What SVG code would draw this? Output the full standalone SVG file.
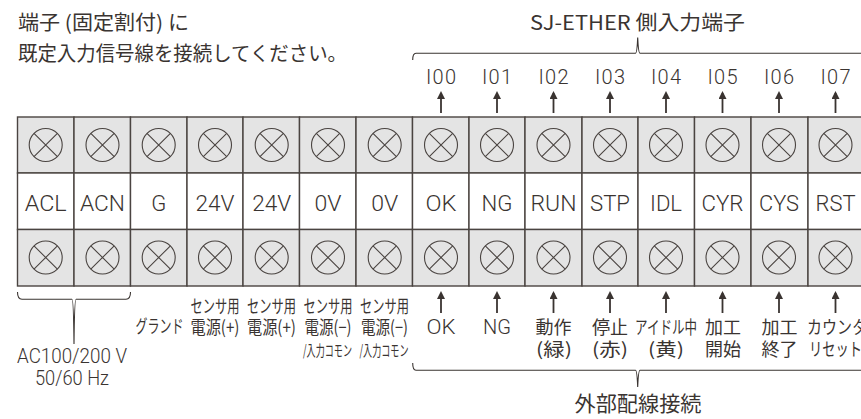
<svg xmlns="http://www.w3.org/2000/svg" width="861" height="419" viewBox="0 0 861 419">
<style>
text{font-family:Roboto,"Liberation Sans","Noto Sans CJK JP",sans-serif;font-weight:300;fill:#3a3431;text-anchor:middle}
.j{font-family:"Noto Sans CJK JP","Liberation Sans",sans-serif;font-weight:400}
.a{text-anchor:start}
.t{font-size:20px}
.l{font-size:22px}
.i{font-size:20px}
.s{font-size:18px}
.x{font-size:15px}
.m{font-size:20px}
.c{fill:#fff;stroke:#4a4441;stroke-width:1.4}
.g{fill:#e4e4e4;stroke:#4a4441;stroke-width:1.4}
.w{fill:none;stroke:#4a4441;stroke-width:1.1}
.b{fill:none;stroke:#3a3431;stroke-width:1.1}
.ar{fill:none;stroke:#3a3431;stroke-width:1.8;marker-end:url(#h)}
</style>
<defs>
<marker id="h" markerUnits="userSpaceOnUse" markerWidth="8" markerHeight="8" refX="6" refY="4" orient="auto" viewBox="0 0 8 8"><path d="M0 0L8 4L0 8Z" fill="#3a3431"/></marker>
<g id="sc"><circle r="16.500" class="w"/><path class="w" d="M-11.700-11.700L11.700 11.700M-11.700 11.700L11.700-11.700"/></g>
</defs>
<g id="titles">
<text class="j t a" x="18" y="29.500" textLength="171" lengthAdjust="spacingAndGlyphs">端子 (固定割付) に</text>
<text class="j t a" x="18" y="61" textLength="329" lengthAdjust="spacingAndGlyphs">既定入力信号線を接続してください。</text>
<text class="j t" x="637.500" y="30" textLength="215" lengthAdjust="spacingAndGlyphs">SJ-ETHER 側入力端子</text>
<text class="j" font-size="21" x="638" y="411" textLength="127" lengthAdjust="spacingAndGlyphs">外部配線接続</text>
</g>
<g id="connectors">
<path class="b" d="M412.700 60Q412.700 53.300 416 53.300L635.500 53.300Q637 53.300 637.700 37.500Q638.400 53.300 640 53.300L861 53.300"/>
<path class="b" d="M412.700 363Q412.700 370.300 416 370.300L635.500 370.300Q637 370.300 637.700 387Q638.400 370.300 640 370.300L861 370.300"/>
<path class="b" d="M17.500 292Q17.500 299.300 22 299.300L72 299.300Q73.500 299.300 74 344Q74.500 299.300 76 299.300L126 299.300Q130.500 299.300 130.500 292"/>
<path class="ar" d="M441 113L441 93"/><path class="ar" d="M497 113L497 93"/><path class="ar" d="M553.500 113L553.500 93"/><path class="ar" d="M610 113L610 93"/><path class="ar" d="M666 113L666 93"/><path class="ar" d="M722.500 113L722.500 93"/><path class="ar" d="M779 113L779 93"/><path class="ar" d="M835.500 113L835.500 93"/>
<path class="ar" d="M441 313L441 293"/><path class="ar" d="M497 313L497 293"/><path class="ar" d="M553.500 313L553.500 293"/><path class="ar" d="M610 313L610 293"/><path class="ar" d="M666 313L666 293"/><path class="ar" d="M722.500 313L722.500 293"/><path class="ar" d="M779 313L779 293"/><path class="ar" d="M835.500 313L835.500 293"/>
</g>
<g id="t-ACL"><rect class="g" x="17.500" y="117" width="56.500" height="56"/><rect class="c" x="17.500" y="173" width="56.500" height="56.500"/><rect class="g" x="17.500" y="229.500" width="56.500" height="56.500"/><use href="#sc" x="45.700" y="145"/><use href="#sc" x="45.700" y="257.500"/><text class="l" x="45.700" y="211" textLength="42" lengthAdjust="spacingAndGlyphs">ACL</text></g>
<g id="t-ACN"><rect class="g" x="74" y="117" width="56.500" height="56"/><rect class="c" x="74" y="173" width="56.500" height="56.500"/><rect class="g" x="74" y="229.500" width="56.500" height="56.500"/><use href="#sc" x="102.500" y="145"/><use href="#sc" x="102.500" y="257.500"/><text class="l" x="102.500" y="211" textLength="45" lengthAdjust="spacingAndGlyphs">ACN</text></g>
<g id="t-G"><rect class="g" x="130.500" y="117" width="56.500" height="56"/><rect class="c" x="130.500" y="173" width="56.500" height="56.500"/><rect class="g" x="130.500" y="229.500" width="56.500" height="56.500"/><use href="#sc" x="158.700" y="145"/><use href="#sc" x="158.700" y="257.500"/><text class="l" x="158.700" y="211">G</text></g>
<g id="t-24V-1"><rect class="g" x="187" y="117" width="56" height="56"/><rect class="c" x="187" y="173" width="56" height="56.500"/><rect class="g" x="187" y="229.500" width="56" height="56.500"/><use href="#sc" x="215" y="145"/><use href="#sc" x="215" y="257.500"/><text class="l" x="215" y="211" textLength="39" lengthAdjust="spacingAndGlyphs">24V</text></g>
<g id="t-24V-2"><rect class="g" x="243" y="117" width="56.500" height="56"/><rect class="c" x="243" y="173" width="56.500" height="56.500"/><rect class="g" x="243" y="229.500" width="56.500" height="56.500"/><use href="#sc" x="271.700" y="145"/><use href="#sc" x="271.700" y="257.500"/><text class="l" x="271.700" y="211" textLength="39" lengthAdjust="spacingAndGlyphs">24V</text></g>
<g id="t-0V-1"><rect class="g" x="299.500" y="117" width="56.500" height="56"/><rect class="c" x="299.500" y="173" width="56.500" height="56.500"/><rect class="g" x="299.500" y="229.500" width="56.500" height="56.500"/><use href="#sc" x="328" y="145"/><use href="#sc" x="328" y="257.500"/><text class="l" x="328" y="211" textLength="27" lengthAdjust="spacingAndGlyphs">0V</text></g>
<g id="t-0V-2"><rect class="g" x="356" y="117" width="56.500" height="56"/><rect class="c" x="356" y="173" width="56.500" height="56.500"/><rect class="g" x="356" y="229.500" width="56.500" height="56.500"/><use href="#sc" x="384.700" y="145"/><use href="#sc" x="384.700" y="257.500"/><text class="l" x="384.700" y="211" textLength="27" lengthAdjust="spacingAndGlyphs">0V</text></g>
<g id="t-OK"><rect class="g" x="412.500" y="117" width="56.500" height="56"/><rect class="c" x="412.500" y="173" width="56.500" height="56.500"/><rect class="g" x="412.500" y="229.500" width="56.500" height="56.500"/><use href="#sc" x="441" y="145"/><use href="#sc" x="441" y="257.500"/><text class="l" x="441" y="211" textLength="31" lengthAdjust="spacingAndGlyphs">OK</text><text class="i" x="441" y="83.500" textLength="30">I00</text></g>
<g id="t-NG"><rect class="g" x="469" y="117" width="56" height="56"/><rect class="c" x="469" y="173" width="56" height="56.500"/><rect class="g" x="469" y="229.500" width="56" height="56.500"/><use href="#sc" x="497" y="145"/><use href="#sc" x="497" y="257.500"/><text class="l" x="497" y="211" textLength="31" lengthAdjust="spacingAndGlyphs">NG</text><text class="i" x="497" y="83.500" textLength="30">I01</text></g>
<g id="t-RUN"><rect class="g" x="525" y="117" width="57" height="56"/><rect class="c" x="525" y="173" width="57" height="56.500"/><rect class="g" x="525" y="229.500" width="57" height="56.500"/><use href="#sc" x="553.500" y="145"/><use href="#sc" x="553.500" y="257.500"/><text class="l" x="553.500" y="211" textLength="46" lengthAdjust="spacingAndGlyphs">RUN</text><text class="i" x="553.500" y="83.500" textLength="30">I02</text></g>
<g id="t-STP"><rect class="g" x="582" y="117" width="56" height="56"/><rect class="c" x="582" y="173" width="56" height="56.500"/><rect class="g" x="582" y="229.500" width="56" height="56.500"/><use href="#sc" x="610" y="145"/><use href="#sc" x="610" y="257.500"/><text class="l" x="610" y="211" textLength="40" lengthAdjust="spacingAndGlyphs">STP</text><text class="i" x="610" y="83.500" textLength="30">I03</text></g>
<g id="t-IDL"><rect class="g" x="638" y="117" width="56.500" height="56"/><rect class="c" x="638" y="173" width="56.500" height="56.500"/><rect class="g" x="638" y="229.500" width="56.500" height="56.500"/><use href="#sc" x="666" y="145"/><use href="#sc" x="666" y="257.500"/><text class="l" x="666" y="211" textLength="32" lengthAdjust="spacingAndGlyphs">IDL</text><text class="i" x="666" y="83.500" textLength="30">I04</text></g>
<g id="t-CYR"><rect class="g" x="694.500" y="117" width="56.500" height="56"/><rect class="c" x="694.500" y="173" width="56.500" height="56.500"/><rect class="g" x="694.500" y="229.500" width="56.500" height="56.500"/><use href="#sc" x="722.500" y="145"/><use href="#sc" x="722.500" y="257.500"/><text class="l" x="722.500" y="211" textLength="42" lengthAdjust="spacingAndGlyphs">CYR</text><text class="i" x="722.500" y="83.500" textLength="30">I05</text></g>
<g id="t-CYS"><rect class="g" x="751" y="117" width="57" height="56"/><rect class="c" x="751" y="173" width="57" height="56.500"/><rect class="g" x="751" y="229.500" width="57" height="56.500"/><use href="#sc" x="779" y="145"/><use href="#sc" x="779" y="257.500"/><text class="l" x="779" y="211" textLength="40" lengthAdjust="spacingAndGlyphs">CYS</text><text class="i" x="779" y="83.500" textLength="30">I06</text></g>
<g id="t-RST"><rect class="g" x="808" y="117" width="60" height="56"/><rect class="c" x="808" y="173" width="60" height="56.500"/><rect class="g" x="808" y="229.500" width="60" height="56.500"/><use href="#sc" x="835.500" y="145"/><use href="#sc" x="835.500" y="257.500"/><text class="l" x="835.500" y="211" textLength="40" lengthAdjust="spacingAndGlyphs">RST</text><text class="i" x="835.500" y="83.500" textLength="30">I07</text></g>
<g id="notes">
<text class="m" x="72" y="363" textLength="110" lengthAdjust="spacingAndGlyphs">AC100/200 V</text>
<text class="m" x="72" y="384.500" textLength="74" lengthAdjust="spacingAndGlyphs">50/60 Hz</text>
<text class="j s" x="159.500" y="333" textLength="48" lengthAdjust="spacingAndGlyphs">グランド</text>
<text class="j s" x="215" y="313" textLength="49" lengthAdjust="spacingAndGlyphs">センサ用</text>
<text class="j s" x="215" y="334" textLength="49" lengthAdjust="spacingAndGlyphs">電源(+)</text>
<text class="j s" x="271.500" y="313" textLength="49" lengthAdjust="spacingAndGlyphs">センサ用</text>
<text class="j s" x="271.500" y="334" textLength="49" lengthAdjust="spacingAndGlyphs">電源(+)</text>
<text class="j s" x="328" y="313" textLength="49" lengthAdjust="spacingAndGlyphs">センサ用</text>
<text class="j s" x="328" y="334" textLength="47" lengthAdjust="spacingAndGlyphs">電源(−)</text>
<text class="j x" x="327.500" y="356" textLength="49" lengthAdjust="spacingAndGlyphs">/入力コモン</text>
<text class="j s" x="384.500" y="313" textLength="49" lengthAdjust="spacingAndGlyphs">センサ用</text>
<text class="j s" x="384.500" y="334" textLength="47" lengthAdjust="spacingAndGlyphs">電源(−)</text>
<text class="j x" x="384" y="356" textLength="49" lengthAdjust="spacingAndGlyphs">/入力コモン</text>
<text class="m" x="441" y="334" textLength="29" lengthAdjust="spacingAndGlyphs">OK</text>
<text class="m" x="497" y="334" textLength="28" lengthAdjust="spacingAndGlyphs">NG</text>
<text class="j s" x="553.500" y="334" textLength="36" lengthAdjust="spacingAndGlyphs">動作</text>
<text class="j s" x="554" y="356" textLength="36" lengthAdjust="spacingAndGlyphs">(緑)</text>
<text class="j s" x="610" y="334" textLength="36" lengthAdjust="spacingAndGlyphs">停止</text>
<text class="j s" x="610" y="356" textLength="36" lengthAdjust="spacingAndGlyphs">(赤)</text>
<text class="j s" x="666" y="334" textLength="62" lengthAdjust="spacingAndGlyphs">アイドル中</text>
<text class="j s" x="666" y="356" textLength="36" lengthAdjust="spacingAndGlyphs">(黄)</text>
<text class="j s" x="723" y="334" textLength="36" lengthAdjust="spacingAndGlyphs">加工</text>
<text class="j s" x="723" y="356" textLength="36" lengthAdjust="spacingAndGlyphs">開始</text>
<text class="j s" x="779.500" y="334" textLength="36" lengthAdjust="spacingAndGlyphs">加工</text>
<text class="j s" x="779.500" y="356" textLength="36" lengthAdjust="spacingAndGlyphs">終了</text>
<text class="j s a" x="807" y="334" textLength="60" lengthAdjust="spacingAndGlyphs">カウンタ</text>
<text class="j s a" x="809" y="356" textLength="53" lengthAdjust="spacingAndGlyphs">リセット</text>
</g>
</svg>
